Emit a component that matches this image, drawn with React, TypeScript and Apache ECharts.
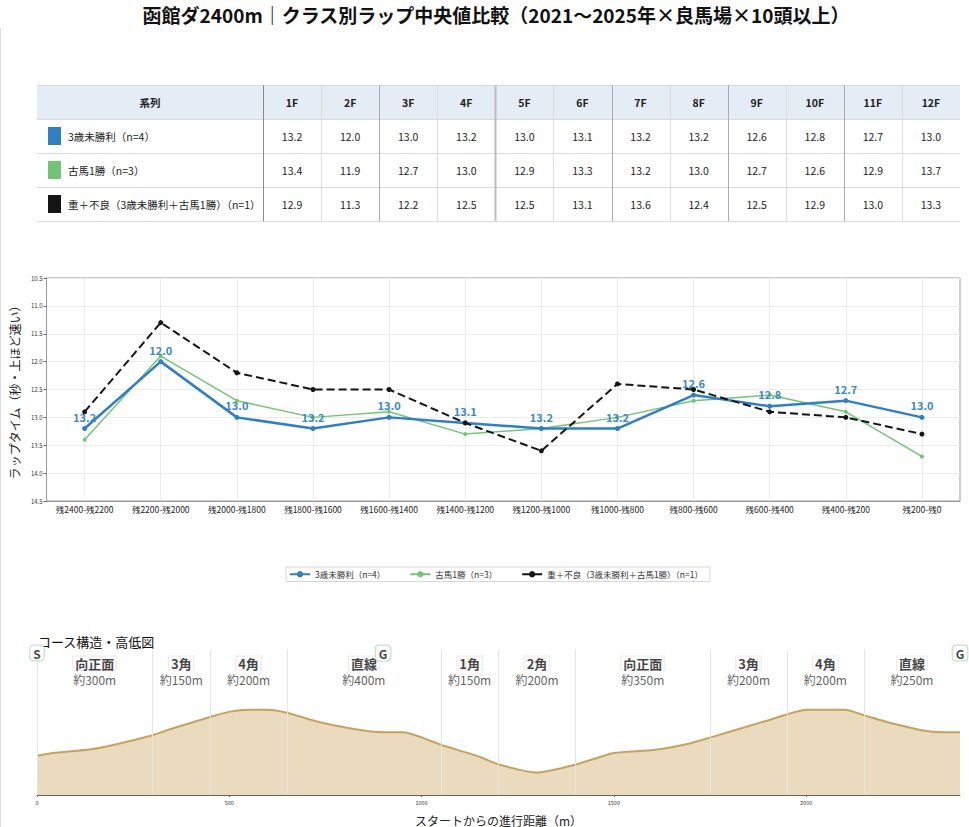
import React, { useEffect, useRef } from "react";
import * as echarts from "echarts";

const TITLE = "函館ダ2400m｜クラス別ラップ中央値比較（2021〜2025年×良馬場×10頭以上）";
const FONT = '"Noto Sans CJK JP", "Noto Sans", sans-serif';

const furlongs = ["1F", "2F", "3F", "4F", "5F", "6F", "7F", "8F", "9F", "10F", "11F", "12F"];
const segments = [
  "残2400-残2200", "残2200-残2000", "残2000-残1800", "残1800-残1600",
  "残1600-残1400", "残1400-残1200", "残1200-残1000", "残1000-残800",
  "残800-残600", "残600-残400", "残400-残200", "残200-残0",
];
const seriesNames = ["3歳未勝利（n=4）", "古馬1勝（n=3）", "重＋不良（3歳未勝利＋古馬1勝）（n=1）"];
const seriesColors = ["#2f7fc1", "#74c476", "#151515"];

const lapsMaiden = [13.2, 12.0, 13.0, 13.2, 13.0, 13.1, 13.2, 13.2, 12.6, 12.8, 12.7, 13.0];
const lapsOneWin = [13.4, 11.9, 12.7, 13.0, 12.9, 13.3, 13.2, 13.0, 12.7, 12.6, 12.9, 13.7];
const lapsHeavy = [12.9, 11.3, 12.2, 12.5, 12.5, 13.1, 13.6, 12.4, 12.5, 12.9, 13.0, 13.3];

const profileDist = [0, 42, 103, 146, 198, 250, 300, 354, 452, 502, 550, 597, 650, 727, 848, 900, 952, 1052, 1152, 1201, 1300, 1401, 1500, 1602, 1700, 1752, 1898, 2002, 2101, 2153, 2205, 2304, 2353, 2400];
const profileElev = [1.08, 1.16, 1.22, 1.27, 1.38, 1.51, 1.65, 1.84, 2.16, 2.30, 2.35, 2.35, 2.27, 2.03, 1.78, 1.73, 1.73, 1.38, 1.05, 0.84, 0.62, 0.84, 1.16, 1.24, 1.43, 1.59, 2.05, 2.35, 2.35, 2.19, 2.03, 1.78, 1.73, 1.73];

const sectionNames = ["向正面", "3角", "4角", "直線", "1角", "2角", "向正面", "3角", "4角", "直線"];
const sectionLengths = ["約300m", "約150m", "約200m", "約400m", "約150m", "約200m", "約350m", "約200m", "約200m", "約250m"];
const sectionBounds = [0, 300, 450, 650, 1050, 1200, 1400, 1750, 1950, 2150, 2400];
const markerLabels = ["S", "G", "G"];
const markerDist = [0, 900, 2400];

const PROFILE_MAX = 4;

function buildTable() {
  const els: any[] = [];
  const left = 37, splitX = 263, right = 960, top = 85, rowH = 34;
  const cw = (right - splitX) / furlongs.length;
  const rows = [lapsMaiden, lapsOneWin, lapsHeavy];
  const bottom = top + rowH * (rows.length + 1);
  els.push({ type: "rect", shape: { x: left, y: top, width: right - left, height: rowH }, style: { fill: "#e4ecf5" }, silent: true });
  for (let r = 0; r <= rows.length + 1; r++) {
    const y = top + r * rowH + 0.5;
    els.push({ type: "line", shape: { x1: left, y1: y, x2: right, y2: y }, style: { stroke: "#dadada", lineWidth: 1 }, silent: true });
  }
  els.push({ type: "line", shape: { x1: splitX + 0.5, y1: top, x2: splitX + 0.5, y2: bottom }, style: { stroke: "#8a8a8a", lineWidth: 1 }, silent: true });
  for (let i = 1; i < furlongs.length; i++) {
    const x = Math.round(splitX + i * cw) + 0.5;
    const strong = i % 2 === 0;
    els.push({
      type: "line",
      shape: { x1: x, y1: top, x2: x, y2: bottom },
      style: { stroke: i === 4 ? "#bdbdbd" : strong ? "#ababab" : "#dcdcdc", lineWidth: i === 4 ? 2 : 1 },
      silent: true,
    });
  }
  const txt = (text: string, x: number, y: number, opts: any = {}) => ({
    type: "text",
    silent: true,
    style: {
      text, x, y,
      fill: opts.fill || "#222",
      fontSize: opts.fontSize || 10.5,
      fontWeight: opts.fontWeight || "normal",
      fontFamily: FONT,
      align: opts.align || "center",
      verticalAlign: "middle",
      textAlign: opts.align || "center",
      textVerticalAlign: "middle",
    },
  });
  els.push(txt("系列", (left + splitX) / 2, top + rowH / 2, { fontWeight: "bold", fontSize: 10.5 }));
  furlongs.forEach((f, i) => els.push(txt(f, splitX + cw * (i + 0.5), top + rowH / 2, { fontWeight: "bold", fontSize: 10.5 })));
  rows.forEach((vals, r) => {
    const cy = top + rowH * (r + 1) + rowH / 2;
    els.push({ type: "rect", shape: { x: 48, y: cy - 9, width: 13, height: 18 }, style: { fill: seriesColors[r] }, silent: true });
    els.push(txt(seriesNames[r], 68, cy, { align: "left", fontSize: 10.5 }));
    vals.forEach((v, i) => els.push(txt(v.toFixed(1), splitX + cw * (i + 0.5), cy, { fontSize: 10.5 })));
  });
  return els;
}

export default function App() {
  const ref = useRef<HTMLDivElement>(null);
  useEffect(() => {
    if (!ref.current) return;
    const chart = echarts.init(ref.current, undefined, { renderer: "svg" });
    const vLines = segments.map((c) => ({ xAxis: c }));
    const lapSeries = [lapsMaiden, lapsOneWin, lapsHeavy].map((data, i) => ({
      name: seriesNames[i],
      type: "line",
      xAxisIndex: 0,
      yAxisIndex: 0,
      data,
      z: i === 0 ? 4 : i === 1 ? 3 : 5,
      symbol: "circle",
      symbolSize: i === 1 ? 4 : 5,
      itemStyle: { color: seriesColors[i] },
      lineStyle: {
        color: seriesColors[i],
        width: i === 0 ? 2.5 : i === 1 ? 1.5 : 2,
        type: i === 2 ? [8, 4] : "solid",
      },
      label: i === 0
        ? { show: true, position: "top", distance: 4, color: "#3a88c6", fontSize: 11, fontWeight: "bold", fontFamily: FONT, formatter: (p: any) => Number(p.value).toFixed(1) }
        : { show: false },
      markLine: i === 0
        ? { silent: true, symbol: ["none", "none"], label: { show: false }, lineStyle: { color: "#ececec", type: "solid", width: 1 }, data: vLines, z: 1 }
        : undefined,
    }));

    const sectionCenters = sectionNames.map((_, i) => (sectionBounds[i] + sectionBounds[i + 1]) / 2);

    const option: any = {
      animation: false,
      textStyle: { fontFamily: FONT },
      legend: {
        data: seriesNames,
        top: 567,
        left: 286,
        itemWidth: 20,
        itemHeight: 8,
        itemGap: 24,
        padding: [3, 7, 3, 3],
        borderColor: "#d6d6d6",
        borderWidth: 1,
        textStyle: { fontSize: 8.5, color: "#333", fontFamily: FONT },
      },
      grid: [
        { left: 37, right: 9, top: 278, height: 223, show: true, borderColor: "#9a9a9a", borderWidth: 1, backgroundColor: "transparent" },
        { left: 37, right: 9, top: 650, height: 148 },
      ],
      xAxis: [
        {
          type: "category",
          gridIndex: 0,
          data: segments,
          boundaryGap: true,
          axisLine: { lineStyle: { color: "#9a9a9a" } },
          axisTick: { alignWithLabel: true, length: 3, lineStyle: { color: "#666" } },
          axisLabel: { fontSize: 8.5, color: "#222", margin: 4, interval: 0 },
          splitLine: { show: false },
        },
        {
          type: "value",
          gridIndex: 1,
          min: 0,
          max: 2400,
          interval: 500,
          axisLine: { lineStyle: { color: "#666" } },
          axisTick: { length: 2, lineStyle: { color: "#666" } },
          axisLabel: { fontSize: 5.5, color: "#333", margin: 5, showMaxLabel: false, formatter: (v: number) => String(v) },
          splitLine: { show: false },
          name: "スタートからの進行距離（m）",
          nameLocation: "middle",
          nameGap: 19,
          nameTextStyle: { fontSize: 12, color: "#222", fontFamily: FONT },
        },
      ],
      yAxis: [
        {
          type: "value",
          gridIndex: 0,
          inverse: true,
          min: 10.5,
          max: 14.5,
          interval: 0.5,
          axisLine: { show: true, lineStyle: { color: "#9a9a9a" } },
          axisTick: { show: true, length: 3, lineStyle: { color: "#666" } },
          axisLabel: { fontSize: 6, color: "#333", margin: 4, formatter: (v: number) => v.toFixed(1) },
          splitLine: { show: true, lineStyle: { color: "#ececec" } },
          name: "ラップタイム（秒・上ほど速い）",
          nameLocation: "middle",
          nameGap: 25,
          nameTextStyle: { fontSize: 12, color: "#222", fontFamily: FONT },
        },
        { type: "value", gridIndex: 1, min: 0, max: PROFILE_MAX, show: false },
      ],
      series: [
        ...lapSeries,
        {
          type: "line",
          xAxisIndex: 1,
          yAxisIndex: 1,
          data: profileDist.map((d, i) => [d, profileElev[i]]),
          symbol: "none",
          smooth: 0.2,
          lineStyle: { color: "#c9a15f", width: 2 },
          areaStyle: { color: "#eadbbf", opacity: 1 },
          markLine: {
            silent: true,
            symbol: ["none", "none"],
            label: { show: false },
            lineStyle: { color: "#e4e4e4", type: "solid", width: 1 },
            data: sectionBounds.slice(0, -1).map((b) => ({ xAxis: b })),
          },
          z: 2,
        },
        {
          type: "scatter",
          xAxisIndex: 1,
          yAxisIndex: 1,
          symbolSize: 1,
          itemStyle: { color: "rgba(0,0,0,0)" },
          data: sectionNames.map((n, i) => ({ name: n, value: [sectionCenters[i], PROFILE_MAX] })),
          label: {
            show: true,
            position: "bottom",
            distance: 6,
            formatter: (p: any) => p.name,
            fontSize: 13,
            fontWeight: "bold",
            color: "#111",
            backgroundColor: "#fff",
            borderColor: "#e6e6e6",
            borderWidth: 1,
            padding: [0, 2, 0, 2],
            lineHeight: 13,
            fontFamily: FONT,
          },
          z: 6,
        },
        {
          type: "scatter",
          xAxisIndex: 1,
          yAxisIndex: 1,
          symbolSize: 1,
          itemStyle: { color: "rgba(0,0,0,0)" },
          data: sectionLengths.map((n, i) => ({ name: n, value: [sectionCenters[i], PROFILE_MAX] })),
          label: {
            show: true,
            position: "bottom",
            distance: 23,
            formatter: (p: any) => p.name,
            fontSize: 12,
            color: "#333",
            lineHeight: 12,
            fontFamily: FONT,
          },
          z: 6,
        },
        {
          type: "scatter",
          xAxisIndex: 1,
          yAxisIndex: 1,
          symbolSize: 1,
          itemStyle: { color: "rgba(0,0,0,0)" },
          data: markerLabels.map((m, i) => ({ name: m, value: [markerDist[i], PROFILE_MAX] })),
          label: {
            show: true,
            position: "inside",
            offset: [0, 3],
            formatter: (p: any) => p.name,
            fontSize: 12,
            fontWeight: "bold",
            color: "#111",
            backgroundColor: "#fff",
            borderColor: "#a6d8b2",
            borderWidth: 1,
            borderRadius: 3,
            padding: [2, 3, 1, 3],
            fontFamily: FONT,
          },
          z: 7,
        },
      ],
      graphic: [
        { type: "line", silent: true, shape: { x1: 0.5, y1: 28, x2: 0.5, y2: 827 }, style: { stroke: "#dddddd", lineWidth: 1 } },
        {
          type: "text",
          silent: true,
          style: { text: TITLE, x: 496, y: 14, fill: "#111", fontSize: 19, fontWeight: "bold", fontFamily: FONT, align: "center", verticalAlign: "middle", textAlign: "center", textVerticalAlign: "middle" },
        },
        {
          type: "text",
          silent: true,
          style: { text: "コース構造・高低図", x: 38, y: 641, fill: "#111", fontSize: 13, fontFamily: FONT, align: "left", verticalAlign: "middle", textAlign: "left", textVerticalAlign: "middle" },
        },
        ...buildTable(),
      ],
    };
    chart.setOption(option);
    return () => chart.dispose();
  }, []);
  return <div ref={ref} style={{ position: "absolute", left: 0, top: 0, width: 969, height: 827 }} />;
}
